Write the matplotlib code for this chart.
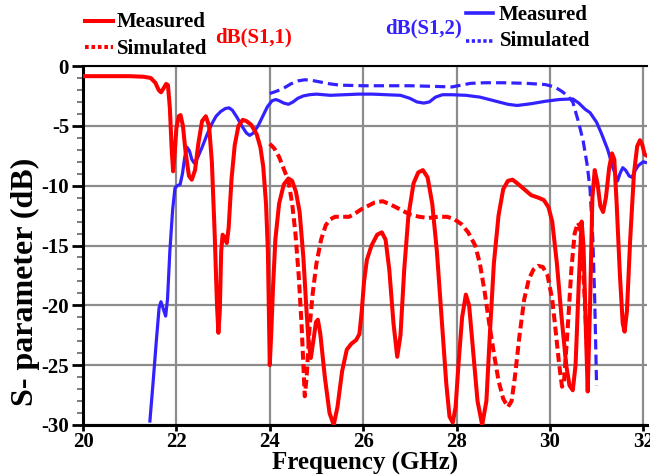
import matplotlib
matplotlib.use("Agg")
import matplotlib.pyplot as plt
from matplotlib.lines import Line2D
from matplotlib.ticker import MultipleLocator

plt.rcParams['font.family'] = ['Liberation Serif', 'DejaVu Serif']
plt.rcParams['font.weight'] = 'bold'
plt.rcParams['axes.unicode_minus'] = False

# ---- data ----
s11_meas_f = [20.0, 20.5, 21.0, 21.3, 21.45, 21.55, 21.62, 21.67, 21.72, 21.78, 21.82, 21.86, 21.9, 21.93,
              21.96, 22.0, 22.05, 22.09, 22.14, 22.2, 22.27, 22.33, 22.4, 22.47, 22.55, 22.63, 22.7, 22.76,
              22.82, 22.87, 22.9, 22.93, 22.96, 22.99, 23.03, 23.08, 23.12, 23.18, 23.25, 23.33, 23.42,
              23.5, 23.6, 23.72, 23.8, 23.86, 23.92, 23.96, 23.98, 24.0, 24.03, 24.07, 24.12, 24.2, 24.3,
              24.4, 24.48, 24.56, 24.64, 24.72, 24.78, 24.83, 24.88, 24.94, 24.99, 25.03, 25.08, 25.18,
              25.28, 25.37, 25.45, 25.55, 25.65, 25.75, 25.85, 25.92, 25.97, 26.02, 26.08, 26.18, 26.3,
              26.4, 26.48, 26.56, 26.65, 26.73, 26.8, 26.88, 26.97, 27.08, 27.18, 27.28, 27.38, 27.48,
              27.58, 27.68, 27.78, 27.85, 27.92, 27.98, 28.05, 28.12, 28.2, 28.27, 28.36, 28.45, 28.55,
              28.64, 28.72, 28.8, 28.9, 29.0, 29.1, 29.2, 29.3, 29.45, 29.6, 29.75, 29.87, 29.97, 30.05,
              30.15, 30.25, 30.35, 30.42, 30.49, 30.55, 30.62, 30.68, 30.72, 30.77, 30.81, 30.86, 30.91,
              30.96, 31.02, 31.08, 31.14, 31.2, 31.27, 31.33, 31.38, 31.43, 31.5, 31.56, 31.6, 31.65,
              31.72, 31.8, 31.87, 31.93, 31.98, 32.03, 32.08]
s11_meas_db = [-0.85, -0.85, -0.85, -0.9, -1.0, -1.4, -2.0, -2.2, -1.9, -1.5, -1.6, -3.5, -7.0, -8.8,
               -7.5, -5.2, -4.2, -4.1, -5.0, -7.3, -9.2, -9.5, -8.7, -6.5, -4.6, -4.2, -5.0, -8.0,
               -14.0, -20.0, -22.3, -20.5, -15.5, -14.1, -14.3, -14.8, -13.5, -9.5, -6.6, -5.0, -4.5,
               -4.6, -4.9, -5.7, -6.8, -8.4, -11.5, -15.5, -20.0, -25.0, -22.5, -18.5, -14.5, -11.5, -9.9,
               -9.4, -9.6, -10.5, -12.2, -16.0, -20.0, -23.0, -24.4, -22.8, -21.4, -21.2, -22.3, -26.0,
               -29.0, -30.0, -28.5, -25.5, -23.7, -23.2, -22.9, -22.4, -20.5, -18.0, -16.2, -15.0, -14.1,
               -13.9, -14.5, -17.0, -21.5, -24.3, -22.5, -17.0, -12.5, -9.8, -8.9, -8.7, -9.3, -11.5,
               -15.5, -21.0, -26.5, -29.3, -29.8, -28.5, -24.5, -21.0, -19.1, -20.0, -24.0, -28.0, -30.0,
               -28.0, -22.0, -16.5, -12.5, -10.3, -9.6, -9.5, -9.8, -10.3, -10.8, -11.0, -11.2, -11.8, -13.0,
               -16.5, -21.0, -25.0, -26.7, -27.1, -25.0, -18.0, -13.0, -15.0, -22.0, -27.2, -20.0, -11.0,
               -8.7, -9.8, -11.7, -12.2, -11.0, -8.5, -7.3, -7.8, -11.5, -17.5, -21.5, -22.2, -20.5,
               -14.5, -9.0, -6.7, -6.2, -6.6, -7.4, -7.5]

s11_sim_f = [24.0, 24.1, 24.2, 24.3, 24.4, 24.48, 24.55, 24.62, 24.68, 24.72, 24.75, 24.79, 24.85, 24.92,
             25.0, 25.1, 25.2, 25.3, 25.4, 25.55, 25.7, 25.8, 25.95, 26.1, 26.25, 26.42, 26.6, 26.8, 27.0,
             27.2, 27.4, 27.6, 27.8, 27.95, 28.1, 28.25, 28.4, 28.5, 28.6, 28.7, 28.8, 28.9, 29.0, 29.1,
             29.18, 29.25, 29.35, 29.45, 29.55, 29.65, 29.75, 29.85, 29.95, 30.05, 30.12, 30.2, 30.26,
             30.3, 30.38, 30.46, 30.53, 30.6, 30.64, 30.69, 30.74, 30.8]
s11_sim_db = [-6.5, -6.9, -7.6, -8.6, -9.6, -11.5, -14.0, -17.5, -21.5, -25.0, -27.6, -26.0, -22.0, -19.0,
              -16.5, -14.5, -13.3, -12.8, -12.6, -12.6, -12.6, -12.4, -12.0, -11.7, -11.4, -11.3, -11.6,
              -12.0, -12.4, -12.6, -12.7, -12.6, -12.6, -12.8, -13.2, -13.9, -15.0, -16.5, -18.8, -21.5,
              -24.0, -26.3, -27.8, -28.5, -28.0, -26.0, -22.5, -19.5, -17.8, -17.0, -16.7, -16.8, -17.5,
              -19.5, -22.0, -25.0, -26.8, -26.5, -22.0, -17.0, -14.0, -13.1, -13.4, -15.5, -19.0, -24.0]

s12_meas_f = [21.43, 21.5, 21.57, 21.63, 21.67, 21.72, 21.77, 21.81, 21.86, 21.92, 21.97, 22.02, 22.08,
              22.13, 22.18, 22.23, 22.28, 22.33, 22.38, 22.45, 22.55, 22.65, 22.75, 22.85, 22.95, 23.05,
              23.13, 23.2, 23.3, 23.4, 23.5, 23.57, 23.65, 23.75, 23.85, 23.95, 24.05, 24.13, 24.2, 24.3,
              24.4, 24.5, 24.6, 24.72, 24.85, 25.0, 25.3, 25.6, 25.9, 26.2, 26.5, 26.8, 27.0, 27.15, 27.3,
              27.42, 27.55, 27.7, 27.9, 28.2, 28.5, 28.8, 29.1, 29.3, 29.6, 29.9, 30.2, 30.49, 30.62,
              30.75, 30.86, 31.0, 31.1, 31.24, 31.35, 31.45, 31.5, 31.56, 31.62, 31.7, 31.76, 31.83,
              31.9, 32.0, 32.08]
s12_meas_db = [-29.8, -26.5, -23.0, -20.2, -19.7, -20.3, -20.9, -19.5, -15.5, -12.0, -10.2, -10.0, -9.9,
               -9.0, -7.6, -6.8, -7.1, -7.8, -8.1, -7.7, -6.8, -5.8, -4.9, -4.2, -3.8, -3.55,
               -3.5, -3.7, -4.3, -5.0, -5.6, -5.8, -5.6, -5.0, -4.2, -3.4, -2.9, -2.8, -2.9, -3.1,
               -3.2, -3.0, -2.7, -2.5, -2.4, -2.35, -2.45, -2.4, -2.35, -2.35, -2.4, -2.45, -2.7, -3.0, -3.1,
               -3.0, -2.6, -2.4, -2.4, -2.45, -2.6, -2.9, -3.2, -3.3, -3.15, -2.95, -2.8, -2.75, -3.1,
               -3.6, -3.9, -4.7, -5.6, -7.0, -8.5, -9.6, -9.0, -8.5, -8.7, -9.2, -9.3, -8.7,
               -8.3, -8.0, -8.1]

s12_sim_f = [24.0, 24.15, 24.3, 24.45, 24.6, 24.75, 24.9, 25.1, 25.3, 25.5, 26.0, 26.5, 27.0, 27.5, 27.9,
             28.1, 28.3, 28.6, 29.0, 29.5, 29.9, 30.1, 30.25, 30.38, 30.49, 30.6, 30.71, 30.8, 30.86,
             30.92, 30.96, 31.0]
s12_sim_db = [-2.3, -2.1, -1.85, -1.5, -1.25, -1.15, -1.2, -1.35, -1.5, -1.6, -1.65, -1.65, -1.65, -1.7,
              -1.75, -1.6, -1.45, -1.4, -1.4, -1.45, -1.55, -1.75, -2.1, -2.5, -3.0, -4.5, -6.2, -8.3,
              -10.3, -14.5, -19.5, -26.7]

x_ticks = [20, 22, 24, 26, 28, 30, 32]
y_ticks = [0, -5, -10, -15, -20, -25, -30]

RED = '#ff0000'
BLUE = '#3322ff'

W, H = 650, 476
fig = plt.figure(figsize=(W / 100, H / 100), dpi=100)
ax = fig.add_axes([83 / W, 1 - 425 / H, (647 - 83) / W, (425 - 66) / H])

ax.plot(s12_meas_f, s12_meas_db, color=BLUE, lw=2.3, solid_capstyle='butt', zorder=3)
ax.plot(s12_sim_f, s12_sim_db, color=BLUE, lw=2.3, dashes=(3.2, 1.6), zorder=3)
ax.plot(s11_sim_f, s11_sim_db, color=RED, lw=2.9, dashes=(2.2, 1.1), zorder=4)
ax.plot(s11_meas_f, s11_meas_db, color=RED, lw=2.9, solid_joinstyle='round', zorder=5)

ax.set_xlim(20, 32.08)
ax.set_ylim(-30, 0)
ax.set_xticks(x_ticks)
ax.set_xticklabels([str(t) for t in x_ticks])
ax.set_yticks(y_ticks)
ax.set_yticklabels([str(t) for t in y_ticks])
ax.yaxis.set_minor_locator(MultipleLocator(1))
ax.grid(True, which='major', color='#8c8c8c', lw=1.6)
ax.set_axisbelow(True)

ax.tick_params(axis='both', which='major', direction='out', width=2, color='black',
               labelsize=15, pad=1)
ax.tick_params(axis='y', which='major', length=8, pad=2)
ax.tick_params(axis='x', which='major', length=4)
ax.tick_params(axis='y', which='minor', length=4, width=1.2, color='#666666')
for lab in ax.get_xticklabels() + ax.get_yticklabels():
    lab.set_fontweight('bold')

ax.spines['right'].set_visible(False)
ax.spines['left'].set_linewidth(2.2)
ax.spines['bottom'].set_linewidth(2.2)
ax.spines['top'].set_linewidth(1.5)


def fx(px):
    return px / W


def fy(py):
    return 1 - py / H


# axis titles
fig.text(fx(365), fy(470), 'Frequency (GHz)', fontsize=18, fontweight='bold',
         ha='center', va='baseline')
fig.text(fx(25), fy(282), 'S- parameter (dB)', fontsize=23, fontweight='bold',
         ha='center', va='center', rotation=90)

# ---- legend-like annotations ----
fig.add_artist(Line2D([fx(85), fx(113)], [fy(21), fy(21)], color=RED, lw=2.9))
fig.add_artist(Line2D([fx(85), fx(113)], [fy(47), fy(47)], color=RED, lw=2.9, dashes=(0.9, 0.7)))
fig.text(fx(117), fy(22), 'Measured', fontsize=15, fontweight='bold', va='center', ha='left')
fig.text(fx(117), fy(49), 'Simulated', fontsize=15, fontweight='bold', va='center', ha='left')
fig.text(fx(215), fy(37), 'dB(S1,1)', fontsize=15, fontweight='bold', va='center', ha='left', color=RED)

fig.text(fx(385), fy(28), 'dB(S1,2)', fontsize=15, fontweight='bold', va='center', ha='left', color=BLUE)
fig.add_artist(Line2D([fx(466), fx(493)], [fy(13), fy(13)], color=BLUE, lw=2.6))
fig.add_artist(Line2D([fx(466), fx(493)], [fy(41), fy(41)], color=BLUE, lw=2.6, dashes=(0.9, 0.7)))
fig.text(fx(499), fy(15), 'Measured', fontsize=15, fontweight='bold', va='center', ha='left')
fig.text(fx(500), fy(41), 'Simulated', fontsize=15, fontweight='bold', va='center', ha='left')

fig.savefig('out.png', dpi=100)
